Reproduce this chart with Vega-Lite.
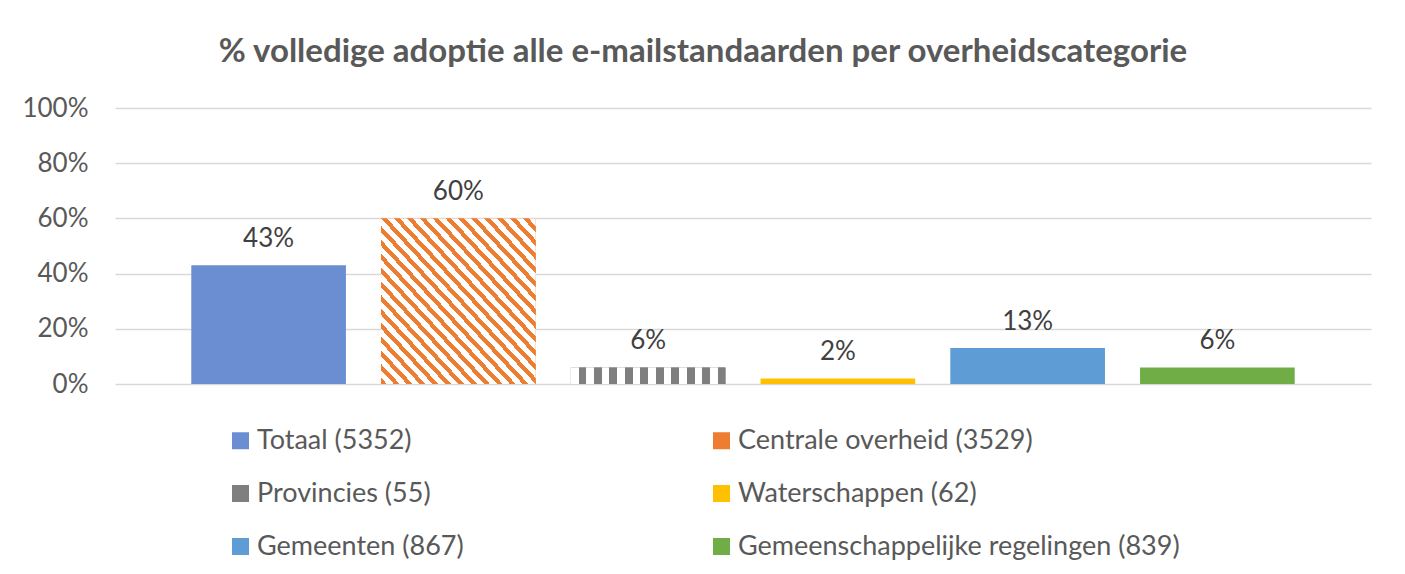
{
  "$schema": "https://vega.github.io/schema/vega-lite/v6.json",
  "width": 1256,
  "height": 276,
  "autosize": {"type": "none"},
  "padding": {"left": 115, "top": 108, "right": 34, "bottom": 190},
  "background": "white",
  "title": {
    "text": "% volledige adoptie alle e-mailstandaarden per overheidscategorie",
    "font": "Lato", "fontSize": 33, "fontWeight": "bold", "color": "#595959",
    "anchor": "middle", "dx": -40, "offset": 26
  },
  "config": {"view": {"stroke": null}, "font": "Lato"},
  "data": {"values": [
    {"categorie": "Totaal (5352)", "adoptie": 0.43},
    {"categorie": "Centrale overheid (3529)", "adoptie": 0.60},
    {"categorie": "Provincies (55)", "adoptie": 0.06},
    {"categorie": "Waterschappen (62)", "adoptie": 0.02},
    {"categorie": "Gemeenten (867)", "adoptie": 0.13},
    {"categorie": "Gemeenschappelijke regelingen (839)", "adoptie": 0.06}
  ]},
  "encoding": {
    "x": {"field": "categorie", "type": "nominal", "sort": null,
      "scale": {"paddingInner": 0.185, "paddingOuter": 0.402}, "axis": null},
    "y": {"field": "adoptie", "type": "quantitative",
      "scale": {"domain": [0, 1]},
      "axis": {"format": ".0%", "values": [0, 0.2, 0.4, 0.6, 0.8, 1], "title": null,
        "domain": false, "ticks": false, "labelPadding": 27, "labelFontSize": 26,
        "labelFont": "Lato", "labelColor": "#595959", "gridColor": "#d9d9d9", "gridWidth": 1.5}}
  },
  "layer": [
    {
      "mark": {"type": "bar"},
      "encoding": {
        "color": {"field": "categorie", "type": "nominal",
          "scale": {
            "domain": ["Totaal (5352)", "Centrale overheid (3529)", "Provincies (55)", "Waterschappen (62)", "Gemeenten (867)", "Gemeenschappelijke regelingen (839)"],
            "range": ["#6B8ED2", "#ED7D31", "#7F7F7F", "#FFC000", "#5E9CD6", "#70AD47"]
          },
          "legend": {
            "orient": "none", "legendX": 112, "legendY": 319, "direction": "horizontal",
            "columns": 2, "columnPadding": 244, "rowPadding": 25, "title": null,
            "symbolType": "square", "symbolSize": 289, "symbolStrokeWidth": 0,
            "labelOffset": 3, "labelFontSize": 27, "labelFont": "Lato", "labelColor": "#595959",
            "labelLimit": 600
          }
        }
      }
    },
    {
      "transform": [{"filter": "datum.categorie === 'Centrale overheid (3529)'"}],
      "mark": {"type": "bar", "fill": {"gradient": "linear", "x1": 0, "y1": 1, "x2": 1, "y2": 0, "stops": [
        {"offset": 0, "color": "#ED7D31"}, {"offset": 0.01875, "color": "#ED7D31"}, {"offset": 0.01875, "color": "#FFFFFF"}, {"offset": 0.041667, "color": "#FFFFFF"},
        {"offset": 0.041667, "color": "#ED7D31"}, {"offset": 0.060417, "color": "#ED7D31"}, {"offset": 0.060417, "color": "#FFFFFF"}, {"offset": 0.083333, "color": "#FFFFFF"},
        {"offset": 0.083333, "color": "#ED7D31"}, {"offset": 0.102083, "color": "#ED7D31"}, {"offset": 0.102083, "color": "#FFFFFF"}, {"offset": 0.125, "color": "#FFFFFF"},
        {"offset": 0.125, "color": "#ED7D31"}, {"offset": 0.14375, "color": "#ED7D31"}, {"offset": 0.14375, "color": "#FFFFFF"}, {"offset": 0.166667, "color": "#FFFFFF"},
        {"offset": 0.166667, "color": "#ED7D31"}, {"offset": 0.185417, "color": "#ED7D31"}, {"offset": 0.185417, "color": "#FFFFFF"}, {"offset": 0.208333, "color": "#FFFFFF"},
        {"offset": 0.208333, "color": "#ED7D31"}, {"offset": 0.227083, "color": "#ED7D31"}, {"offset": 0.227083, "color": "#FFFFFF"}, {"offset": 0.25, "color": "#FFFFFF"},
        {"offset": 0.25, "color": "#ED7D31"}, {"offset": 0.26875, "color": "#ED7D31"}, {"offset": 0.26875, "color": "#FFFFFF"}, {"offset": 0.291667, "color": "#FFFFFF"},
        {"offset": 0.291667, "color": "#ED7D31"}, {"offset": 0.310417, "color": "#ED7D31"}, {"offset": 0.310417, "color": "#FFFFFF"}, {"offset": 0.333333, "color": "#FFFFFF"},
        {"offset": 0.333333, "color": "#ED7D31"}, {"offset": 0.352083, "color": "#ED7D31"}, {"offset": 0.352083, "color": "#FFFFFF"}, {"offset": 0.375, "color": "#FFFFFF"},
        {"offset": 0.375, "color": "#ED7D31"}, {"offset": 0.39375, "color": "#ED7D31"}, {"offset": 0.39375, "color": "#FFFFFF"}, {"offset": 0.416667, "color": "#FFFFFF"},
        {"offset": 0.416667, "color": "#ED7D31"}, {"offset": 0.435417, "color": "#ED7D31"}, {"offset": 0.435417, "color": "#FFFFFF"}, {"offset": 0.458333, "color": "#FFFFFF"},
        {"offset": 0.458333, "color": "#ED7D31"}, {"offset": 0.477083, "color": "#ED7D31"}, {"offset": 0.477083, "color": "#FFFFFF"}, {"offset": 0.5, "color": "#FFFFFF"},
        {"offset": 0.5, "color": "#ED7D31"}, {"offset": 0.51875, "color": "#ED7D31"}, {"offset": 0.51875, "color": "#FFFFFF"}, {"offset": 0.541667, "color": "#FFFFFF"},
        {"offset": 0.541667, "color": "#ED7D31"}, {"offset": 0.560417, "color": "#ED7D31"}, {"offset": 0.560417, "color": "#FFFFFF"}, {"offset": 0.583333, "color": "#FFFFFF"},
        {"offset": 0.583333, "color": "#ED7D31"}, {"offset": 0.602083, "color": "#ED7D31"}, {"offset": 0.602083, "color": "#FFFFFF"}, {"offset": 0.625, "color": "#FFFFFF"},
        {"offset": 0.625, "color": "#ED7D31"}, {"offset": 0.64375, "color": "#ED7D31"}, {"offset": 0.64375, "color": "#FFFFFF"}, {"offset": 0.666667, "color": "#FFFFFF"},
        {"offset": 0.666667, "color": "#ED7D31"}, {"offset": 0.685417, "color": "#ED7D31"}, {"offset": 0.685417, "color": "#FFFFFF"}, {"offset": 0.708333, "color": "#FFFFFF"},
        {"offset": 0.708333, "color": "#ED7D31"}, {"offset": 0.727083, "color": "#ED7D31"}, {"offset": 0.727083, "color": "#FFFFFF"}, {"offset": 0.75, "color": "#FFFFFF"},
        {"offset": 0.75, "color": "#ED7D31"}, {"offset": 0.76875, "color": "#ED7D31"}, {"offset": 0.76875, "color": "#FFFFFF"}, {"offset": 0.791667, "color": "#FFFFFF"},
        {"offset": 0.791667, "color": "#ED7D31"}, {"offset": 0.810417, "color": "#ED7D31"}, {"offset": 0.810417, "color": "#FFFFFF"}, {"offset": 0.833333, "color": "#FFFFFF"},
        {"offset": 0.833333, "color": "#ED7D31"}, {"offset": 0.852083, "color": "#ED7D31"}, {"offset": 0.852083, "color": "#FFFFFF"}, {"offset": 0.875, "color": "#FFFFFF"},
        {"offset": 0.875, "color": "#ED7D31"}, {"offset": 0.89375, "color": "#ED7D31"}, {"offset": 0.89375, "color": "#FFFFFF"}, {"offset": 0.916667, "color": "#FFFFFF"},
        {"offset": 0.916667, "color": "#ED7D31"}, {"offset": 0.935417, "color": "#ED7D31"}, {"offset": 0.935417, "color": "#FFFFFF"}, {"offset": 0.958333, "color": "#FFFFFF"},
        {"offset": 0.958333, "color": "#ED7D31"}, {"offset": 0.977083, "color": "#ED7D31"}, {"offset": 0.977083, "color": "#FFFFFF"}, {"offset": 1, "color": "#FFFFFF"}
      ]}}
    },
    {
      "transform": [{"filter": "datum.categorie === 'Provincies (55)'"}],
      "mark": {"type": "bar", "fill": {"gradient": "linear", "x1": 0, "y1": 0, "x2": 1, "y2": 0, "stops": [
        {"offset": 0, "color": "#FFFFFF"}, {"offset": 0.05, "color": "#FFFFFF"}, {"offset": 0.05, "color": "#7F7F7F"}, {"offset": 0.1, "color": "#7F7F7F"},
        {"offset": 0.1, "color": "#FFFFFF"}, {"offset": 0.15, "color": "#FFFFFF"}, {"offset": 0.15, "color": "#7F7F7F"}, {"offset": 0.2, "color": "#7F7F7F"},
        {"offset": 0.2, "color": "#FFFFFF"}, {"offset": 0.25, "color": "#FFFFFF"}, {"offset": 0.25, "color": "#7F7F7F"}, {"offset": 0.3, "color": "#7F7F7F"},
        {"offset": 0.3, "color": "#FFFFFF"}, {"offset": 0.35, "color": "#FFFFFF"}, {"offset": 0.35, "color": "#7F7F7F"}, {"offset": 0.4, "color": "#7F7F7F"},
        {"offset": 0.4, "color": "#FFFFFF"}, {"offset": 0.45, "color": "#FFFFFF"}, {"offset": 0.45, "color": "#7F7F7F"}, {"offset": 0.5, "color": "#7F7F7F"},
        {"offset": 0.5, "color": "#FFFFFF"}, {"offset": 0.55, "color": "#FFFFFF"}, {"offset": 0.55, "color": "#7F7F7F"}, {"offset": 0.6, "color": "#7F7F7F"},
        {"offset": 0.6, "color": "#FFFFFF"}, {"offset": 0.65, "color": "#FFFFFF"}, {"offset": 0.65, "color": "#7F7F7F"}, {"offset": 0.7, "color": "#7F7F7F"},
        {"offset": 0.7, "color": "#FFFFFF"}, {"offset": 0.75, "color": "#FFFFFF"}, {"offset": 0.75, "color": "#7F7F7F"}, {"offset": 0.8, "color": "#7F7F7F"},
        {"offset": 0.8, "color": "#FFFFFF"}, {"offset": 0.85, "color": "#FFFFFF"}, {"offset": 0.85, "color": "#7F7F7F"}, {"offset": 0.9, "color": "#7F7F7F"},
        {"offset": 0.9, "color": "#FFFFFF"}, {"offset": 0.95, "color": "#FFFFFF"}, {"offset": 0.95, "color": "#7F7F7F"}, {"offset": 1, "color": "#7F7F7F"}
      ]}}
    },
    {
      "mark": {"type": "text", "baseline": "alphabetic", "dy": -18, "fontSize": 26, "font": "Lato", "color": "#404040"},
      "encoding": {
        "text": {"field": "adoptie", "type": "quantitative", "format": ".0%"}
      }
    }
  ]
}
